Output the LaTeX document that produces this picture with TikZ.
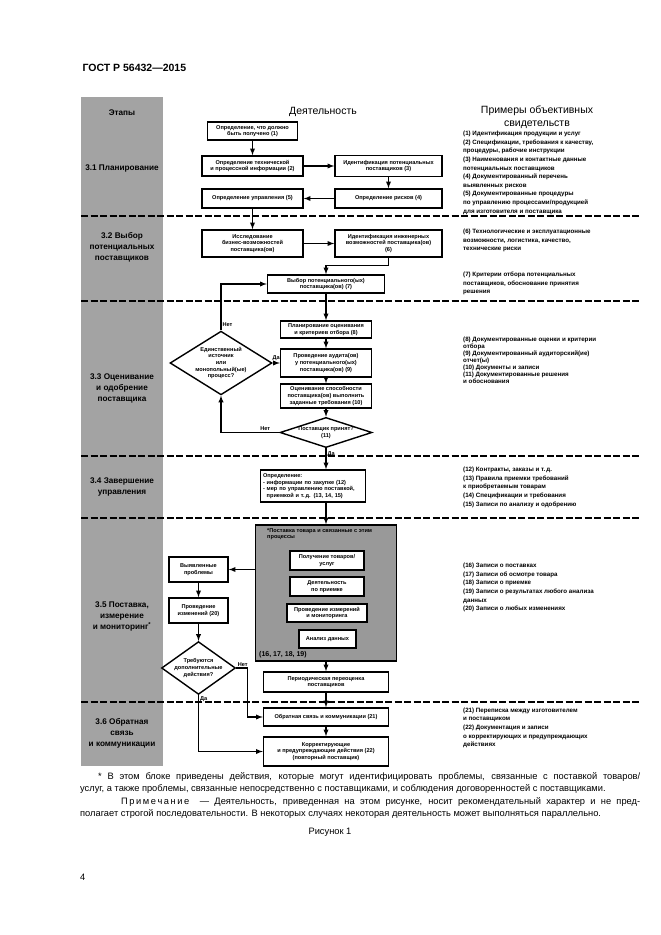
\documentclass[tikz,border=0pt]{standalone}
\usepackage{fontspec}
\setmainfont{Liberation Sans}
\usetikzlibrary{arrows,shapes.geometric,calc}

\begin{document}
\begin{tikzpicture}[x=1pt,y=-1pt,>=latex,
   box/.style={draw,line width=1.4pt,fill=white,align=center,inner sep=1pt,
     font=\fontsize{5.6}{6.6}\selectfont\bfseries},
   decision/.style={diamond,draw,line width=1.4pt,fill=white,align=center,inner sep=0pt,
     font=\fontsize{5.6}{6.6}\selectfont\bfseries},
   stage/.style={align=center,font=\fontsize{8.2}{11}\selectfont\bfseries},
   evid/.style={anchor=north west,align=left,inner sep=0pt,
     font=\fontsize{6.2}{8.6}\selectfont\bfseries},
   lbl/.style={inner sep=1pt,font=\fontsize{5.6}{6.6}\selectfont\bfseries},
   link/.style={->,line width=1.3pt},
   sep/.style={line width=1.2pt,dash pattern=on 7pt off 2.5pt}]
   \useasboundingbox (0,0) rectangle (661,935);
   % column of stages and the dashed borders
   \fill[black!36] (81,97) rectangle (163,766);
   \foreach \y in {216,301,456,518,702}
      \draw[sep] (81,\y) -- (640,\y);

   \node[anchor=west,font=\fontsize{10.5}{12}\selectfont\bfseries] (gost) at (79,68) {ГОСТ Р 56432—2015};
   \node[stage] (st0) at (122,113) {Этапы};
   \node[font=\fontsize{10.5}{12}\selectfont] (act) at (323,112) {Деятельность};
   \node[align=center,inner sep=0pt,font=\fontsize{10.5}{13.5}\selectfont] (ev0) at (537,117) {Примеры объективных\\свидетельств};

   \node[stage] (st1) at (122,168) {3.1 Планирование};
   \node[stage] (st2) at (122,247) {3.2 Выбор\\потенциальных\\поставщиков};
   \node[stage] (st3) at (122,388) {3.3 Оценивание\\и одобрение\\поставщика};
   \node[stage] (st4) at (122,487) {3.4 Завершение\\управления};
   \node[stage] (st5) at (122,616) {3.5 Поставка,\\измерение\\и мониторинг\textsuperscript{*}};
   \node[stage] (st6) at (122,733) {3.6 Обратная\\связь\\и коммуникации};

   % 3.1
   \node[box,minimum width=90pt,minimum height=18pt] (s1) at (252.5,131) {Определение, что должно\\быть получено (1)};
   \node[box,minimum width=101pt,minimum height=20pt] (s2) at (252.5,166) {Определение технической\\и процессной информации (2)};
   \node[box,minimum width=107pt,minimum height=21pt] (s3) at (388.5,166) {Идентификация потенциальных\\поставщиков (3)};
   \node[box,minimum width=107pt,minimum height=19pt] (s4) at (388.5,198.5) {Определение рисков (4)};
   \node[box,minimum width=101pt,minimum height=19pt] (s5) at (252.5,198.5) {Определение управления (5)};
   % 3.2
   \node[box,minimum width=101pt,minimum height=27pt] (bus) at (252.5,243.5) {Исследование\\бизнес-возможностей\\поставщика(ов)};
   \node[box,minimum width=107pt,minimum height=27pt] (s6) at (388.5,243.5) {Идентификация инженерных\\возможностей поставщика(ов)\\(6)};
   \node[box,minimum width=117pt,minimum height=18pt] (s7) at (326,284) {Выбор потенциального(ых)\\поставщика(ов) (7)};
   % 3.3
   \node[box,minimum width=91pt,minimum height=17pt] (s8) at (326,329.5) {Планирование оценивания\\и критериев отбора (8)};
   \node[box,minimum width=91pt,minimum height=28pt] (s9) at (326,363) {Проведение аудита(ов)\\у потенциального(ых)\\поставщика(ов) (9)};
   \node[box,minimum width=91pt,minimum height=24pt] (s10) at (326,396) {Оценивание способности\\поставщика(ов) выполнить\\заданные требования (10)};
   \node[decision,aspect=3,minimum width=92pt,minimum height=29pt] (d11) at (326,432.5) {Поставщик принят?\\(11)};
   \node[decision,aspect=1.6,minimum width=100pt,minimum height=62pt] (sole) at (221,363) {Единственный\\источник\\или\\монопольный(ые)\\процесс?};
   % 3.4
   \node[box,align=left,text width=100pt,inner xsep=2.5pt,minimum height=32pt] (s12) at (313,486) {Определение:\\ - информации по закупке (12)\\ - мер по управлению поставкой,\\ \ \ приемкой и т.\,д. (13, 14, 15)};
   % 3.5
   \node[draw,line width=1.4pt,fill=black!40,minimum width=141pt,minimum height=136pt] (grey) at (326,593) {};
   \node[lbl,anchor=north west,align=left] (gt) at (266,527) {*Поставка товара и связанные с этим\\процессы};
   \node[box,minimum width=74pt,minimum height=19pt] (g1) at (327,560.5) {Получение товаров/\\услуг};
   \node[box,minimum width=74pt,minimum height=19pt] (g2) at (327,586.5) {Деятельность\\по приемке};
   \node[box,minimum width=80pt,minimum height=18pt] (g3) at (327,613) {Проведение измерений\\и мониторинга};
   \node[box,minimum width=57pt,minimum height=18pt] (g4) at (327.5,639) {Анализ данных};
   \node[anchor=west,inner sep=0pt,font=\fontsize{7}{8}\selectfont\bfseries] (gn) at (259,655) {(16, 17, 18, 19)};
   \node[box,minimum width=59pt,minimum height=25pt] (vyav) at (198.5,569.5) {Выявленные\\проблемы};
   \node[box,minimum width=59pt,minimum height=25pt] (chg) at (198.5,610.5) {Проведение\\изменений (20)};
   \node[decision,aspect=1.4,minimum width=66pt,minimum height=50pt] (d35) at (198.5,668) {Требуются\\дополнительные\\действия?};
   \node[box,minimum width=125pt,minimum height=20pt] (per) at (326,682) {Периодическая переоценка\\поставщиков};
   % 3.6
   \node[box,minimum width=125pt,minimum height=18pt] (s21) at (326,717) {Обратная связь и коммуникации (21)};
   \node[box,minimum width=125pt,minimum height=29pt] (s22) at (326,751.5) {Корректирующие\\и предупреждающие действия (22)\\(повторный поставщик)};

   \path[link]
     (s1) edge (s2)
     (s2) edge (s3)
     (s3) edge (s4)
     (s4) edge (s5)
     (s5) edge (bus)
     (bus) edge (s6)
     (s7) edge (s8)
     (s8) edge (s9)
     (s9) edge (s10)
     (s10) edge (d11)
     (sole) edge node[lbl,above=1pt] {Да} (s9)
     (vyav) edge (chg)
     (chg) edge (d35)
     (grey) edge (per)
     (per) edge (s21)
     (s21) edge (s22);
   \draw[link] (s6.south) -- ++(0,8) -| (s7.north);
   \draw[link] (sole.north) |- node[lbl,pos=0.06,right] {Нет} (s7.west);
   \draw[link] (d11.west) -| node[lbl,pos=0.12,above] {Нет} (sole.south);
   \draw[link] (d11.south) -- node[lbl,pos=0.3,right] {Да} (d11.south |- s12.north);
   \draw[link] (s12.south -| grey.north) -- (grey.north);
   \draw[link] (grey.west |- vyav) -- (vyav);
   \draw[link] (d35.east) node[lbl,above right] {Нет} -- ++(11,0) |- (s21.west);
   \draw[link] (d35.south) node[lbl,below right] {Да} |- (s22.west);

   % examples of evidence
   \node[evid] (e1) at (463,131) {(1) Идентификация продукции и услуг\\(2) Спецификации, требования к качеству,\\процедуры, рабочие инструкции\\(3) Наименования и контактные данные\\потенциальных поставщиков\\(4) Документированный перечень\\выявленных рисков\\(5) Документированные процедуры\\по управлению процессами/продукцией\\для изготовителя и поставщика};
   \node[evid] (e6) at (463,229) {(6) Технологические и эксплуатационные\\возможности, логистика, качество,\\технические риски};
   \node[evid] (e7) at (463,272) {(7) Критерии отбора потенциальных\\поставщиков, обоснование принятия\\решения};
   \node[evid,font=\fontsize{6.2}{7}\selectfont\bfseries] (e8) at (463,337) {(8) Документированные оценки и критерии\\отбора\\(9) Документированный аудиторский(ие)\\отчет(ы)\\(10) Документы и записи\\(11) Документированные решения\\и обоснования};
   \node[evid] (e12) at (463,467) {(12) Контракты, заказы и т.\,д.\\(13) Правила приемки требований\\к приобретаемым товарам\\(14) Спецификации и требования\\(15) Записи по анализу и одобрению};
   \node[evid] (e16) at (463,563) {(16) Записи о поставках\\(17) Записи об осмотре товара\\(18) Записи о приемке\\(19) Записи о результатах любого анализа\\данных\\(20) Записи о любых изменениях};
   \node[evid] (e21) at (463,707.5) {(21) Переписка между изготовителем\\и поставщиком\\(22) Документация и записи\\о корректирующих и предупреждающих\\действиях};

   % notes under the figure
   \node[anchor=west,inner sep=0pt,font=\fontsize{9.3}{11}\selectfont] (fn1) at (98,777) {\hbox to 542pt{* В этом блоке приведены действия, которые могут идентифицировать проблемы, связанные с поставкой товаров/}};
   \node[anchor=west,inner sep=0pt,font=\fontsize{9.3}{11}\selectfont] (fn2) at (80,789) {услуг, а также проблемы, связанные непосредственно с поставщиками, и соблюдения договоренностей с поставщиками.};
   \node[anchor=west,inner sep=0pt,font=\fontsize{9.3}{11}\selectfont] (nt1) at (121,802) {\hbox to 519pt{П\,р\,и\,м\,е\,ч\,а\,н\,и\,е\ \ — Деятельность, приведенная на этом рисунке, носит рекомендательный характер и не пред-}};
   \node[anchor=west,inner sep=0pt,font=\fontsize{9.3}{11}\selectfont] (nt2) at (80,814) {полагает строгой последовательности. В некоторых случаях некоторая деятельность может выполняться параллельно.};
   \node[font=\fontsize{9.3}{11}\selectfont] (fig) at (330,832) {Рисунок 1};
   \node[anchor=west,inner sep=0pt,font=\fontsize{9.3}{11}\selectfont] (page) at (80,877) {4};
\end{tikzpicture}
\end{document}
